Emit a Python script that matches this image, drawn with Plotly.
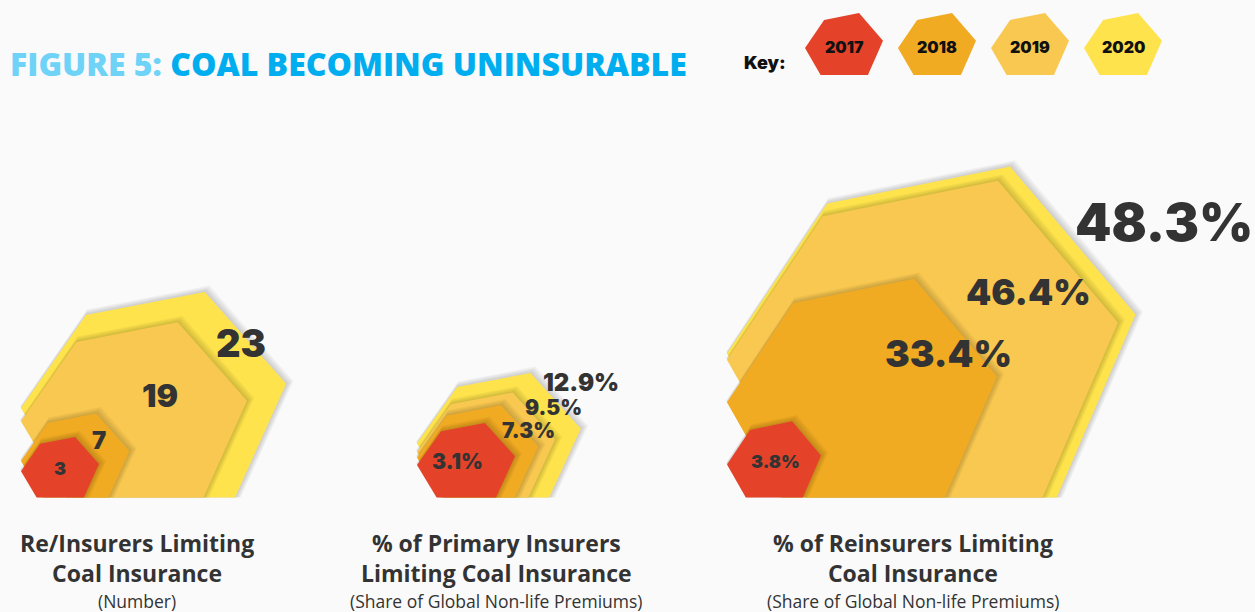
import plotly.graph_objects as go

# ---- data -------------------------------------------------------------
years = ["2017", "2018", "2019", "2020"]
year_colors = ["#E4432A", "#F1AB22", "#F9C850", "#FEE34C"]

insurers_limiting = [3, 7, 19, 23]          # number of (re)insurers
primary_share = [3.1, 7.3, 9.5, 12.9]        # % of global non-life premiums
reinsurer_share = [3.8, 33.4, 46.4, 48.3]    # % of global non-life premiums

panel_titles = [
    "Re/Insurers Limiting<br>Coal Insurance",
    "% of Primary Insurers<br>Limiting Coal Insurance",
    "% of Reinsurers Limiting<br>Coal Insurance",
]
panel_units = [
    "(Number)",
    "(Share of Global Non-life Premiums)",
    "(Share of Global Non-life Premiums)",
]
title_lead = "FIGURE 5:"
title_main = "COAL BECOMING UNINSURABLE"
key_label = "Key:"

# ---- styling / layout ---------------------------------------------------
FIG_W, FIG_H = 1255, 612
BG = "#FAFAFA"
INK = "#333333"
VALUE_FONT = "Inter"
TEXT_FONT = "Open Sans"

# hexagon outline, as fractions of its bounding box (x from left, y from top)
HEX = [(0.0, 0.565), (0.245, 0.112), (0.693, 0.0),
       (1.0, 0.447), (0.807, 1.0), (0.2, 1.0)]

BASELINE = 497.5

# width = max(min_w, a + b * value); height = width * aspect
PANELS = [
    dict(values=insurers_limiting, fmt="{:g}", left=21, a=39.8, b=9.8,
         min_w=78, aspect=0.775, center=137,
         label_at=[(0.50, 0.52), (0.72, 0.32), (0.615, 0.42), (0.83, 0.25)],
         label_size=[18, 24, 32, 38]),
    dict(values=primary_share, fmt="{:.1f}%", left=417, a=65.8, b=7.6,
         min_w=98, aspect=0.76, center=496,
         label_at=[(0.41, 0.51), (0.92, 0.27), (0.99, 0.145), (1.0, 0.08)],
         label_size=[21, 21, 21, 24]),
    dict(values=reinsurer_share, fmt="{:.1f}%", left=727, a=-40.6, b=9.3,
         min_w=94, aspect=0.81, center=913,
         label_at=[(0.52, 0.53), (0.82, 0.34), (0.77, 0.35), (1.07, 0.17)],
         label_size=[18, 37, 36, 52]),
]


def hexagon(left, bottom, w, h):
    xs = [left + fx * w for fx, _ in HEX]
    ys = [bottom - h + fy * h for _, fy in HEX]
    return xs + xs[:1], ys + ys[:1]


def shadow_layers(left, bottom, w, h):
    """Soft drop shadow: a few slightly grown, up-right shifted copies."""
    layers = []
    for k in (4, 3, 2, 1):
        gw, gh = w + 2 * k, h + 2 * k
        xs, ys = hexagon(left - k + 0.8 * k, bottom + k - 0.6 * k, gw, gh)
        ys = [min(y, bottom) for y in ys]
        layers.append((xs, ys, 0.045))
    return layers


fig = go.Figure()
annotations = []


def add_poly(xs, ys, color):
    fig.add_trace(go.Scatter(
        x=xs, y=ys, mode="lines", fill="toself", fillcolor=color,
        line=dict(width=0), hoverinfo="skip", showlegend=False))


for p, title, unit in zip(PANELS, panel_titles, panel_units):
    vals = p["values"]
    widths = [max(p["min_w"], p["a"] + p["b"] * v) for v in vals]
    # biggest year at the back, 2017 in front
    order = sorted(range(len(vals)), key=lambda i: -widths[i])
    for i in order:
        w = widths[i]
        h = w * p["aspect"]
        for xs, ys, alpha in shadow_layers(p["left"], BASELINE, w, h):
            add_poly(xs, ys, f"rgba(0,0,0,{alpha})")
        xs, ys = hexagon(p["left"], BASELINE, w, h)
        add_poly(xs, ys, year_colors[i])
    for i, v in enumerate(vals):
        w = widths[i]
        h = w * p["aspect"]
        fx, fy = p["label_at"][i]
        annotations.append(dict(
            x=p["left"] + fx * w, y=BASELINE - h + fy * h,
            xref="x", yref="y", text=p["fmt"].format(v), showarrow=False,
            xanchor="center", yanchor="middle",
            font=dict(family=VALUE_FONT, size=p["label_size"][i],
                      color=INK, weight=900)))
    annotations.append(dict(
        x=p["center"], y=558, xref="x", yref="y", text=title,
        showarrow=False, xanchor="center", yanchor="middle", align="center",
        borderpad=0,
        font=dict(family=TEXT_FONT, size=23, color=INK, weight=700)))
    annotations.append(dict(
        x=p["center"], y=600.5, xref="x", yref="y", text=unit,
        showarrow=False, xanchor="center", yanchor="middle", borderpad=0,
        font=dict(family=TEXT_FONT, size=17.5, color=INK)))

# ---- key ----------------------------------------------------------------
KEY_LEFT, KEY_STEP, KEY_W, KEY_H, KEY_BOTTOM = 805, 93, 78, 62, 75
for i, (yr, col) in enumerate(zip(years, year_colors)):
    left = KEY_LEFT + i * KEY_STEP
    xs, ys = hexagon(left, KEY_BOTTOM, KEY_W, KEY_H)
    add_poly(xs, ys, col)
    annotations.append(dict(
        x=left + 0.5 * KEY_W, y=KEY_BOTTOM - KEY_H + 0.55 * KEY_H,
        xref="x", yref="y", text=yr, showarrow=False,
        xanchor="center", yanchor="middle",
        font=dict(family=VALUE_FONT, size=16, color="#111111", weight=900)))
annotations.append(dict(
    x=765, y=62, xref="x", yref="y", text=key_label, showarrow=False,
    xanchor="center", yanchor="middle",
    font=dict(family=VALUE_FONT, size=18, color="#111111", weight=900)))

# ---- heading ------------------------------------------------------------
annotations.append(dict(
    x=8, y=63, xref="x", yref="y", showarrow=False,
    xanchor="left", yanchor="middle",
    text=f"<span style='color:#6FD3F8'>{title_lead}</span> {title_main}",
    font=dict(family=TEXT_FONT, size=32, color="#00AEEF", weight=800)))

fig.update_layout(
    width=FIG_W, height=FIG_H,
    margin=dict(l=0, r=0, t=0, b=0),
    paper_bgcolor=BG, plot_bgcolor=BG,
    xaxis=dict(range=[0, FIG_W], visible=False, fixedrange=True),
    yaxis=dict(range=[FIG_H, 0], visible=False, fixedrange=True),
    annotations=annotations,
    showlegend=False,
)

fig.write_html("out.html", config=dict(displayModeBar=False))
